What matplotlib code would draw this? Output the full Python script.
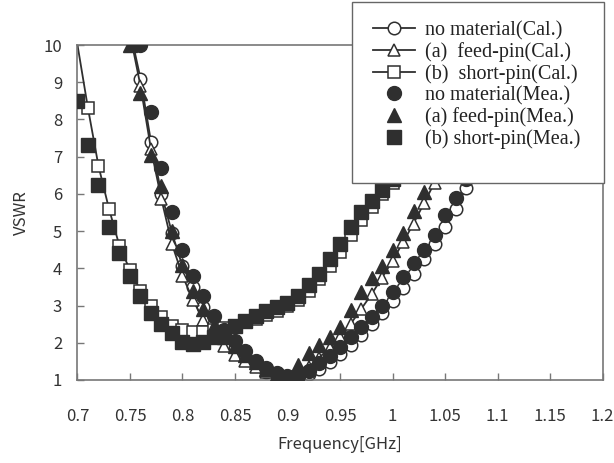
import matplotlib
matplotlib.use('Agg')
import matplotlib.pyplot as plt
from matplotlib.patches import Rectangle

# calculated curves (lines + open markers)
f_nm_cal = [0.75, 0.76, 0.77, 0.78, 0.79, 0.80, 0.81, 0.82, 0.83, 0.84, 0.85, 0.86,
            0.87, 0.88, 0.89, 0.90, 0.91, 0.92, 0.93, 0.94, 0.95, 0.96, 0.97, 0.98,
            0.99, 1.00, 1.01, 1.02, 1.03, 1.04, 1.05, 1.06, 1.07, 1.08, 1.09, 1.10]
v_nm_cal = [10.4, 9.1, 7.4, 6.0, 4.95, 4.05, 3.5, 2.95, 2.5, 2.15, 1.85, 1.6,
            1.4, 1.22, 1.1, 1.02, 1.06, 1.16, 1.3, 1.48, 1.7, 1.95, 2.2, 2.5,
            2.8, 3.12, 3.48, 3.85, 4.25, 4.65, 5.1, 5.6, 6.15, 6.7, 7.3, 7.9]

f_fp_cal = [0.75, 0.76, 0.77, 0.78, 0.79, 0.80, 0.81, 0.82, 0.83, 0.84, 0.85, 0.86,
            0.87, 0.88, 0.89, 0.90, 0.91, 0.92, 0.93, 0.94, 0.95, 0.96, 0.97, 0.98,
            0.99, 1.00, 1.01, 1.02, 1.03, 1.04, 1.05, 1.06]
v_fp_cal = [10.3, 8.9, 7.2, 5.85, 4.65, 3.8, 3.15, 2.6, 2.2, 1.9, 1.68, 1.5,
            1.35, 1.22, 1.1, 1.05, 1.15, 1.35, 1.6, 1.85, 2.15, 2.5, 2.9, 3.3,
            3.75, 4.2, 4.7, 5.2, 5.75, 6.3, 6.9, 7.5]

f_sp_cal = [0.70, 0.71, 0.72, 0.73, 0.74, 0.75, 0.76, 0.77, 0.78, 0.79, 0.80, 0.81,
            0.82, 0.83, 0.84, 0.85, 0.86, 0.87, 0.88, 0.89, 0.90, 0.91, 0.92, 0.93,
            0.94, 0.95, 0.96, 0.97, 0.98, 0.99, 1.00, 1.01, 1.02]
v_sp_cal = [10.0, 8.3, 6.75, 5.6, 4.6, 3.95, 3.4, 3.0, 2.7, 2.45, 2.35, 2.3,
            2.3, 2.35, 2.4, 2.45, 2.55, 2.65, 2.75, 2.85, 3.0, 3.15, 3.4, 3.7,
            4.05, 4.45, 4.9, 5.3, 5.65, 6.0, 6.3, 6.7, 7.1]

# measured points (filled markers)
f_nm_mea = [0.76, 0.77, 0.78, 0.79, 0.80, 0.81, 0.82, 0.83, 0.84, 0.85, 0.86, 0.87,
            0.88, 0.89, 0.90, 0.91, 0.92, 0.93, 0.94, 0.95, 0.96, 0.97, 0.98, 0.99,
            1.00, 1.01, 1.02, 1.03, 1.04, 1.05, 1.06, 1.07, 1.08]
v_nm_mea = [10.0, 8.2, 6.7, 5.5, 4.5, 3.8, 3.25, 2.72, 2.35, 2.05, 1.78, 1.52,
            1.32, 1.18, 1.1, 1.12, 1.25, 1.45, 1.65, 1.88, 2.15, 2.42, 2.69, 3.0,
            3.36, 3.77, 4.14, 4.49, 4.9, 5.43, 5.89, 6.4, 6.9]

f_fp_mea = [0.75, 0.76, 0.77, 0.78, 0.79, 0.80, 0.81, 0.82, 0.83, 0.84, 0.85, 0.86,
            0.87, 0.88, 0.89, 0.90, 0.91, 0.92, 0.93, 0.94, 0.95, 0.96, 0.97, 0.98,
            0.99, 1.00, 1.01, 1.02, 1.03, 1.04, 1.05]
v_fp_mea = [10.0, 8.7, 7.05, 6.2, 5.0, 4.1, 3.4, 2.9, 2.45, 2.15, 1.9, 1.68,
            1.48, 1.3, 1.15, 1.12, 1.4, 1.72, 1.94, 2.15, 2.42, 2.88, 3.36, 3.74,
            4.05, 4.5, 4.95, 5.55, 6.05, 6.6, 7.2]

f_sp_mea = [0.70, 0.71, 0.72, 0.73, 0.74, 0.75, 0.76, 0.77, 0.78, 0.79, 0.80, 0.81,
            0.82, 0.83, 0.84, 0.85, 0.86, 0.87, 0.88, 0.89, 0.90, 0.91, 0.92, 0.93,
            0.94, 0.95, 0.96, 0.97, 0.98, 0.99, 1.00]
v_sp_mea = [8.5, 7.3, 6.25, 5.1, 4.4, 3.8, 3.25, 2.8, 2.5, 2.25, 2.02, 1.97,
            2.02, 2.15, 2.3, 2.45, 2.58, 2.72, 2.85, 2.95, 3.08, 3.25, 3.55, 3.85,
            4.25, 4.65, 5.1, 5.5, 5.8, 6.1, 6.4]

xticks = [0.7, 0.75, 0.8, 0.85, 0.9, 0.95, 1.0, 1.05, 1.1, 1.15, 1.2]
xtick_labels = ['0.7', '0.75', '0.8', '0.85', '0.9', '0.95', '1', '1.05', '1.1', '1.15', '1.2']
yticks = [1, 2, 3, 4, 5, 6, 7, 8, 9, 10]

labels = ['no material(Cal.)', '(a)  feed-pin(Cal.)', '(b)  short-pin(Cal.)',
          'no material(Mea.)', '(a) feed-pin(Mea.)', '(b) short-pin(Mea.)']

dark = '#2f2f2f'
plt.rcParams['font.family'] = ['Noto Sans CJK JP', 'DejaVu Sans']

fig = plt.figure(figsize=(6.14, 4.63), dpi=100)
ax = fig.add_axes([0.1262, 0.1793, 0.8551, 0.7235])

cal_kw = dict(color=dark, lw=1.3, mfc='white', mec=dark, mew=1.1, zorder=2)
h1, = ax.plot(f_nm_cal, v_nm_cal, marker='o', ms=9, markevery=slice(1, None), **cal_kw)
h2, = ax.plot(f_fp_cal, v_fp_cal, marker='^', ms=8.5, markevery=slice(1, None), **cal_kw)
h3, = ax.plot(f_sp_cal, v_sp_cal, marker='s', ms=9, markevery=slice(1, None), **cal_kw)

mea_kw = dict(ls='none', color=dark, mec=dark, zorder=3)
h4, = ax.plot(f_nm_mea, v_nm_mea, marker='o', ms=10, **mea_kw)
h5, = ax.plot(f_fp_mea, v_fp_mea, marker='^', ms=9.5, **mea_kw)
h6, = ax.plot(f_sp_mea, v_sp_mea, marker='s', ms=10, **mea_kw)

ax.set_xlim(0.7, 1.2)
ax.set_ylim(1, 10)
ax.set_xticks(xticks)
ax.set_xticklabels(xtick_labels)
ax.set_yticks(yticks)
ax.tick_params(axis='both', direction='in', length=5, width=1, color='#777',
               labelsize=12, labelcolor='#333')
ax.tick_params(axis='x', pad=20)
ax.tick_params(axis='y', pad=11)
for sp in ax.spines.values():
    sp.set_color('#777')
    sp.set_linewidth(1.2)

ax.set_xlabel('Frequency[GHz]', fontsize=12, color='#333')
ax.set_ylabel('VSWR', fontsize=12, color='#333')
ax.xaxis.set_label_coords(0.5, -0.168)
ax.yaxis.set_label_coords(-0.09, 0.5)

# legend box
box = Rectangle((352 / 614, 1 - 183 / 463), 252 / 614, 181 / 463,
                transform=fig.transFigure, facecolor='white', edgecolor='#666',
                lw=1, zorder=5)
fig.add_artist(box)

leg = fig.legend([h1, h2, h3, h4, h5, h6], labels, loc='upper left',
                 bbox_to_anchor=(0.6075, 0.9546), frameon=False,
                 prop={'family': 'Liberation Serif', 'size': 14.5},
                 handlelength=2.1, handletextpad=0.5, labelspacing=0.1,
                 borderpad=0, borderaxespad=0)
leg.set_zorder(6)
for t in leg.get_texts():
    t.set_color('#222')

fig.savefig('out.png', dpi=100)
